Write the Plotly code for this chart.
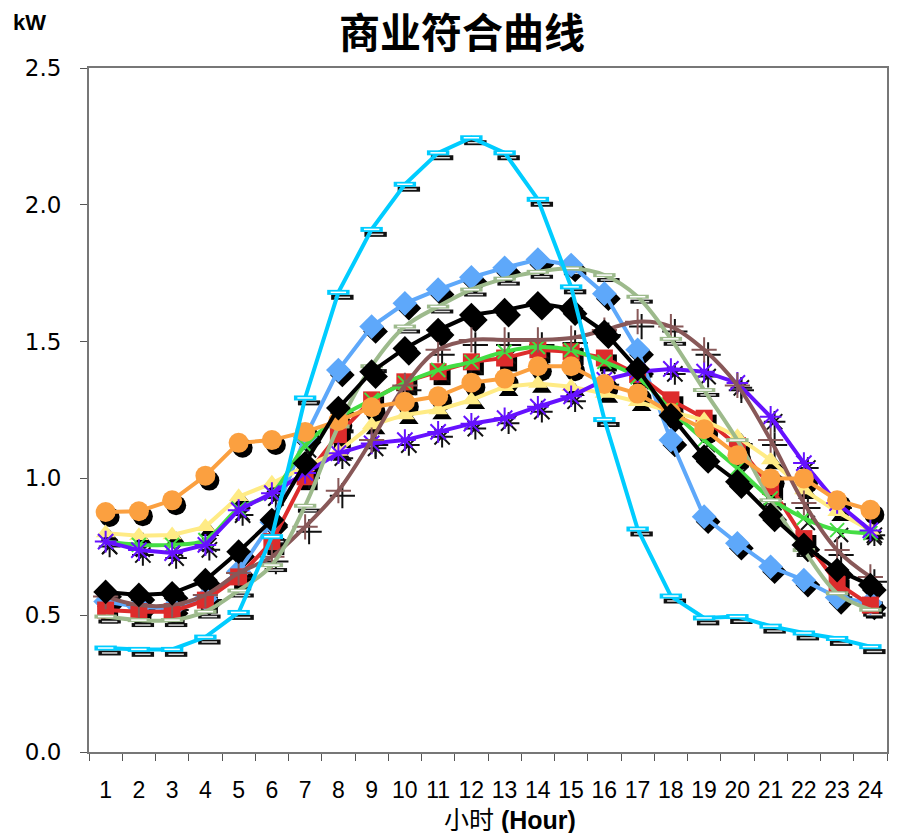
import plotly.graph_objects as go

hours = list(range(1, 25))
hour_labels = [str(h) for h in hours]

red = [0.519,0.513,0.513,0.555,0.64,0.769,1.006,1.16,1.287,1.353,1.39,1.426,1.44,1.47,1.463,1.44,1.38,1.287,1.22,1.12,0.97,0.78,0.617,0.537]
yellow = [0.8,0.79,0.793,0.823,0.933,0.982,1.043,1.098,1.195,1.232,1.25,1.287,1.335,1.347,1.335,1.31,1.28,1.244,1.213,1.152,1.067,0.958,0.878,0.81]
green = [0.769,0.757,0.757,0.775,0.89,0.946,1.12,1.22,1.287,1.349,1.396,1.426,1.463,1.48,1.469,1.426,1.37,1.25,1.14,1.037,0.927,0.855,0.811,0.8]
purple = [0.769,0.738,0.727,0.757,0.884,0.946,1.02,1.092,1.128,1.14,1.17,1.2,1.22,1.262,1.30,1.36,1.39,1.40,1.39,1.349,1.225,1.056,0.91,0.81]
brown = [0.568,0.537,0.537,0.574,0.654,0.714,0.823,0.955,1.14,1.34,1.47,1.506,1.506,1.506,1.513,1.542,1.573,1.555,1.47,1.34,1.14,0.91,0.738,0.64]
sage = [0.495,0.482,0.482,0.513,0.59,0.683,0.9,1.19,1.41,1.555,1.628,1.69,1.73,1.755,1.768,1.743,1.664,1.51,1.323,1.14,0.92,0.738,0.58,0.52]
orange = [0.877,0.88,0.92,1.01,1.13,1.14,1.17,1.21,1.26,1.28,1.30,1.35,1.365,1.41,1.41,1.345,1.31,1.24,1.18,1.085,1.0,1.0,0.92,0.885]
lightblue = [0.55,0.53,0.525,0.56,0.66,0.84,1.15,1.396,1.555,1.64,1.69,1.735,1.77,1.8,1.78,1.675,1.47,1.14,0.86,0.763,0.677,0.628,0.565,0.545]
black = [0.585,0.574,0.58,0.628,0.732,0.848,1.055,1.257,1.39,1.475,1.542,1.597,1.615,1.64,1.62,1.536,1.40,1.23,1.08,0.988,0.866,0.757,0.665,0.61]
cyan = [0.38,0.375,0.375,0.42,0.51,0.787,1.294,1.68,1.91,2.075,2.19,2.245,2.19,2.02,1.70,1.215,0.815,0.57,0.49,0.495,0.46,0.435,0.415,0.385]

# (values, color, symbol, size, marker line width, line shape)
series = [
    (lightblue, "#5EA8FA", "diamond", 19, 0, "linear"),
    (red, "#DD2C2C", "square", 17, 0, "linear"),
    (yellow, "#FFEB85", "triangle-up", 17, 0, "linear"),
    (green, "#44DD44", "x-thin", 14, 2, "spline"),
    (purple, "#6611FF", "asterisk", 18, 2, "linear"),
    (brown, "#885858", "cross-thin", 18, 2, "spline"),
    (sage, "#9DBA8C", "line-ew", 16, 4, "spline"),
    (orange, "#FBA040", "circle", 20, 0, "linear"),
    (black, "#000000", "diamond", 19, 0, "linear"),
    (cyan, "#00CCFF", "line-ew", 16, 5, "linear"),
]

dx, dy = 0.12, 0.018
fig = go.Figure()

# shadows first
for vals, col, sym, size, lw, shape in series:
    mk = dict(symbol=sym, size=size, color="#000000")
    if lw:
        mk["line"] = dict(color="#111111", width=lw)
    fig.add_trace(go.Scatter(x=[h + dx for h in hours], y=[v - dy for v in vals],
                             mode="markers", marker=mk, hoverinfo="skip", showlegend=False))
    if sym == "line-ew":
        fig.add_trace(go.Scatter(x=[h + dx for h in hours], y=[v - dy for v in vals],
                                 mode="markers",
                                 marker=dict(symbol="line-ew", size=size - 5, line=dict(color="#DDDDDD", width=1.5)),
                                 hoverinfo="skip", showlegend=False))

for vals, col, sym, size, lw, shape in series:
    mk = dict(symbol=sym, size=size, color=col)
    if lw:
        mk["line"] = dict(color=col, width=lw)
    fig.add_trace(go.Scatter(x=hours, y=vals, mode="lines+markers",
                             line=dict(color=col, width=4, shape=shape),
                             marker=mk, showlegend=False))
    if sym == "line-ew":
        fig.add_trace(go.Scatter(x=hours, y=vals, mode="markers",
                                 marker=dict(symbol="line-ew", size=size - 5, line=dict(color="white", width=1.5)),
                                 hoverinfo="skip", showlegend=False))

fig.update_layout(
    width=901, height=833,
    margin=dict(l=89, r=12, t=68, b=81),
    plot_bgcolor="white", paper_bgcolor="white",
    showlegend=False,
    xaxis=dict(range=[0.5, 24.5], tickvals=hours, ticktext=hour_labels, ticks="",
               showgrid=False, zeroline=False, showline=True, linecolor="#777777", linewidth=2, mirror=True,
               tickfont=dict(family="Liberation Sans", size=23, color="black"),
               ticklabelstandoff=16,
               minor=dict(ticks="outside", ticklen=7, tickcolor="#555555", tickwidth=1, tick0=0.5, dtick=1, showgrid=False)),
    yaxis=dict(range=[0, 2.5], dtick=0.5, tickformat=".1f", ticks="outside", ticklen=7, tickcolor="#555555",
               showgrid=False, zeroline=False, showline=True, linecolor="#777777", linewidth=2, mirror=True,
               tickfont=dict(family="DejaVu Sans", size=23, color="black"), ticklabelstandoff=14),
    annotations=[
        dict(text="<b>商业符合曲线</b>", x=0.4675, y=1.056, xref="paper", yref="paper",
             xanchor="center", yanchor="middle", showarrow=False,
             font=dict(family="Noto Sans CJK SC", size=41, color="black")),
        dict(text="<b>kW</b>", x=-0.074, y=1.067, xref="paper", yref="paper",
             xanchor="center", yanchor="middle", showarrow=False,
             font=dict(family="Liberation Sans", size=22, color="black")),
        dict(text="小时 <b>(Hour)</b>", x=0.5275, y=-0.1, xref="paper", yref="paper",
             xanchor="center", yanchor="middle", showarrow=False,
             font=dict(family="Liberation Sans, Noto Sans CJK SC", size=25, color="black")),
    ],
)

fig.write_html("out.html")
